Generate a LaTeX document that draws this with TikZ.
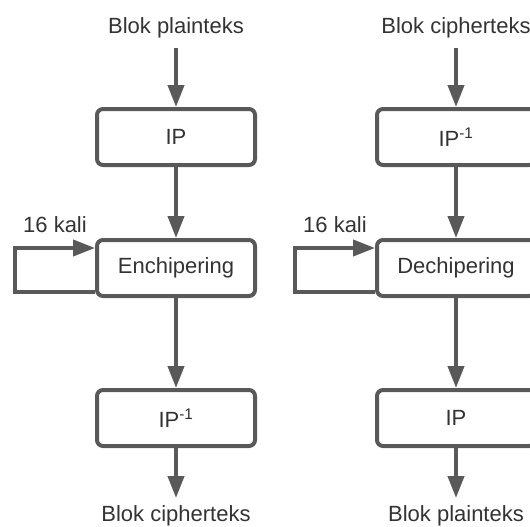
\documentclass[tikz,border=0pt]{standalone}
\usepackage{fontspec}
\setmainfont{Liberation Sans}
\usetikzlibrary{arrows.meta}
\definecolor{linegray}{HTML}{595959}
\definecolor{textgray}{HTML}{333333}
\begin{document}
\begin{tikzpicture}[x=1pt,y=-1pt,
    blok/.style={draw=linegray, line width=4pt, rounded corners=6pt, fill=white,
      minimum width=158pt, minimum height=56pt, text=textgray},
    label/.style={text=textgray},
    arr/.style={draw=linegray, line width=4pt, -{Triangle[length=22pt,width=16pt]}},
    font=\fontsize{22}{26}\selectfont]
  \useasboundingbox (0,0) rectangle (530,527);
  % kiri: enkripsi
  \node[label] (inL) at (176,28) {Blok plainteks};
  \node[blok] (ipL) at (176,137) {IP};
  \node[blok] (enc) at (176,268) {Enchipering};
  \node[blok] (ipinvL) at (176,418) {IP\textsuperscript{-1}};
  \node[label] (outL) at (176,516) {Blok cipherteks};
  \node[label] (kaliL) at (55,225) {16 kali};
  \draw[arr] (176,48) -- (ipL.north);
  \draw[arr] (ipL) -- (enc);
  \draw[arr] (enc) -- (ipinvL);
  \draw[arr] (ipinvL.south) -- (176,498);
  \draw[arr] ([yshift=6pt]enc.south west) -- ++(-80,0) |- ([yshift=-10pt]enc.north west);
  % kanan: dekripsi
  \node[label] (inR) at (456,28) {Blok cipherteks};
  \node[blok] (ipinvR) at (456,137) {IP\textsuperscript{-1}};
  \node[blok] (dec) at (456,268) {Dechipering};
  \node[blok] (ipR) at (456,418) {IP};
  \node[label] (outR) at (456,516) {Blok plainteks};
  \node[label] (kaliR) at (335,225) {16 kali};
  \draw[arr] (456,48) -- (ipinvR.north);
  \draw[arr] (ipinvR) -- (dec);
  \draw[arr] (dec) -- (ipR);
  \draw[arr] (ipR.south) -- (456,498);
  \draw[arr] ([yshift=6pt]dec.south west) -- ++(-80,0) |- ([yshift=-10pt]dec.north west);
\end{tikzpicture}
\end{document}
